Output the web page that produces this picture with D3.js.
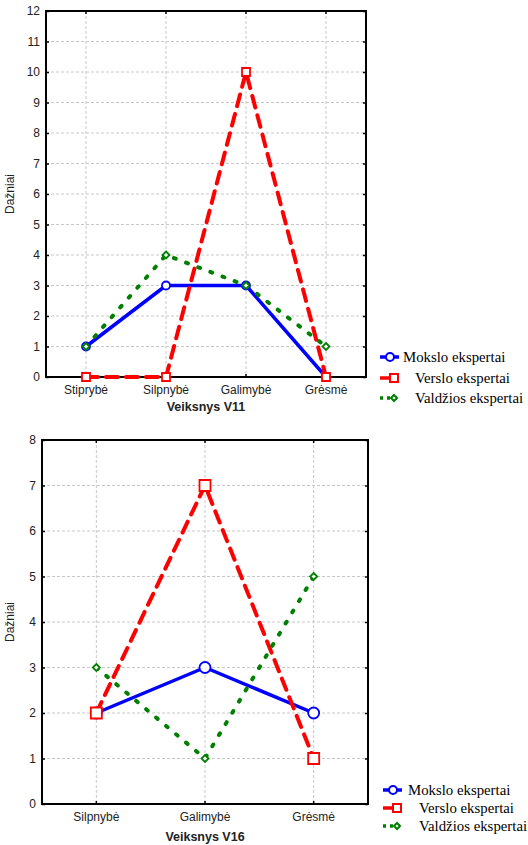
<!DOCTYPE html>
<html lang="lt">
<head>
<meta charset="UTF-8">
<title>Veiksnys V11 / V16</title>
<script src="https://d3js.org/d3.v7.min.js"></script>
<style>
  body { margin: 0; background: #fff; }
  text { font-family: "Liberation Sans", Arial, sans-serif; }
  .legend text { font-family: "Liberation Serif", "Times New Roman", serif; }
</style>
</head>
<body>
<svg id="chart" width="528" height="845"></svg>
<script>
// series names
var seriesNames = ["Mokslo ekspertai", "Verslo ekspertai", "Valdžios ekspertai"];

// chart 1 - Veiksnys V11
var categoriesV11 = ["Stiprybė", "Silpnybė", "Galimybė", "Grėsmė"];
var moksloV11 = [1, 3, 3, 0];
var versloV11 = [0, 0, 10, 0];
var valdziosV11 = [1, 4, 3, 1];
var yTicksV11 = [0, 1, 2, 3, 4, 5, 6, 7, 8, 9, 10, 11, 12];

// chart 2 - Veiksnys V16
var categoriesV16 = ["Silpnybė", "Galimybė", "Grėsmė"];
var moksloV16 = [2, 3, 2];
var versloV16 = [2, 7, 1];
var valdziosV16 = [3, 1, 5];
var yTicksV16 = [0, 1, 2, 3, 4, 5, 6, 7, 8];

var svg = d3.select("#chart");

// line styles for each series
var styles = [
  { color: "#0000ff", width: 3.5, dash: null, marker: "circle" },
  { color: "#ff0000", width: 4, dash: "12,8", marker: "square" },
  { color: "#008000", width: 4, dash: "2,11", marker: "diamond" }
];

function drawChart(opt) {
  var g = svg.append("g");
  var m = opt.box;

  var x = d3.scaleBand()
    .domain(opt.categories)
    .range([m.left, m.right]);

  var y = d3.scaleLinear()
    .domain([0, d3.max(opt.yTicks)])
    .range([m.bottom, m.top]);

  // grid
  g.append("g")
    .selectAll("line")
    .data(opt.yTicks)
    .enter().append("line")
    .attr("x1", m.left).attr("x2", m.right)
    .attr("y1", function (d) { return y(d); })
    .attr("y2", function (d) { return y(d); })
    .attr("stroke", "#c8c8c8").attr("stroke-width", 1)
    .attr("stroke-dasharray", "3,2");
  g.append("g")
    .selectAll("line")
    .data(opt.categories)
    .enter().append("line")
    .attr("x1", function (d) { return x(d) + x.bandwidth() / 2; })
    .attr("x2", function (d) { return x(d) + x.bandwidth() / 2; })
    .attr("y1", m.top).attr("y2", m.bottom)
    .attr("stroke", "#c8c8c8").attr("stroke-width", 1)
    .attr("stroke-dasharray", "3,2");

  // axes (ticks pointing inward)
  var yAxis = g.append("g")
    .attr("transform", "translate(" + m.left + ",0)")
    .call(d3.axisLeft(y).tickValues(opt.yTicks).tickFormat(d3.format("d")).tickSizeInner(-3).tickSizeOuter(0).tickPadding(6));
  yAxis.select(".domain").remove();
  yAxis.selectAll("text").attr("font-size", 12).attr("fill", "#222").style("font-family", "Liberation Sans, Arial");
  yAxis.selectAll("line").attr("stroke-width", 1.5);

  var yAxisR = g.append("g")
    .attr("transform", "translate(" + m.right + ",0)")
    .call(d3.axisRight(y).tickValues(opt.yTicks).tickFormat("").tickSizeInner(-3).tickSizeOuter(0));
  yAxisR.select(".domain").remove();
  yAxisR.selectAll("line").attr("stroke-width", 1.5);

  var xAxis = g.append("g")
    .attr("transform", "translate(0," + m.bottom + ")")
    .call(d3.axisBottom(x).tickSizeInner(-3).tickSizeOuter(0).tickPadding(8));
  xAxis.select(".domain").remove();
  xAxis.selectAll("text").attr("font-size", 12).attr("fill", "#222").style("font-family", "Liberation Sans, Arial");
  xAxis.selectAll("line").attr("stroke-width", 1.5);

  var xAxisT = g.append("g")
    .attr("transform", "translate(0," + m.top + ")")
    .call(d3.axisTop(x).tickFormat("").tickSizeInner(-3).tickSizeOuter(0));
  xAxisT.select(".domain").remove();
  xAxisT.selectAll("line").attr("stroke-width", 1.5);

  // frame
  g.append("rect")
    .attr("x", m.left).attr("y", m.top)
    .attr("width", m.right - m.left).attr("height", m.bottom - m.top)
    .attr("fill", "none").attr("stroke", "#000").attr("stroke-width", 2);

  // axis titles
  g.append("text")
    .attr("x", (m.left + m.right) / 2).attr("y", opt.titleY)
    .attr("text-anchor", "middle")
    .attr("font-size", 12.5).attr("font-weight", "bold").attr("fill", "#222")
    .text(opt.title);
  g.append("text")
    .attr("transform", "translate(" + opt.yLabelX + "," + ((m.top + m.bottom) / 2) + ") rotate(-90)")
    .attr("text-anchor", "middle")
    .attr("font-size", 12).attr("fill", "#222")
    .text("Dažniai");

  // lines
  var line = d3.line()
    .x(function (d, i) { return x(opt.categories[i]) + x.bandwidth() / 2; })
    .y(function (d) { return y(d); });

  opt.series.forEach(function (vals, k) {
    var s = styles[k];
    g.append("path")
      .datum(vals)
      .attr("d", line)
      .attr("fill", "none")
      .attr("stroke", s.color)
      .attr("stroke-width", s.width)
      .attr("stroke-linecap", s.dash ? "round" : "butt")
      .attr("stroke-linejoin", "round")
      .attr("stroke-dasharray", s.dash);
  });

  // markers
  opt.series.forEach(function (vals, k) {
    var s = styles[k];
    var size = opt.markerSize[k];
    g.append("g")
      .selectAll("path")
      .data(vals)
      .enter().append("path")
      .attr("transform", function (d, i) {
        return "translate(" + (x(opt.categories[i]) + x.bandwidth() / 2) + "," + y(d) + ")";
      })
      .attr("d", markerPath(s.marker, size))
      .attr("fill", "#fff")
      .attr("stroke", s.color)
      .attr("stroke-width", 1.8);
  });

  // legend
  var lg = g.append("g").attr("class", "legend");
  seriesNames.forEach(function (name, k) {
    var s = styles[k];
    var ly = opt.legend.y[k];
    lg.append("line")
      .attr("x1", opt.legend.x).attr("x2", opt.legend.x + 19)
      .attr("y1", ly).attr("y2", ly)
      .attr("stroke", s.color).attr("stroke-width", 3.5)
      .attr("stroke-dasharray", k == 2 ? "3,4" : null);
    lg.append("path")
      .attr("transform", "translate(" + (opt.legend.x + (k == 0 ? 10 : 14)) + "," + ly + ")")
      .attr("d", markerPath(s.marker, k == 2 ? 6 : 8))
      .attr("fill", "#fff").attr("stroke", s.color).attr("stroke-width", 2);
    lg.append("text")
      .attr("x", opt.legend.textX[k]).attr("y", ly)
      .attr("dy", "0.35em")
      .attr("font-size", 14.8).attr("fill", "#000")
      .text(name);
  });
}

function markerPath(type, size) {
  var h = size / 2;
  if (type == "circle") {
    return "M" + h + ",0A" + h + "," + h + " 0 1,1 " + (-h) + ",0A" + h + "," + h + " 0 1,1 " + h + ",0Z";
  }
  if (type == "square") {
    return "M" + (-h) + "," + (-h) + "H" + h + "V" + h + "H" + (-h) + "Z";
  }
  return "M0," + (-h) + "L" + h + ",0L0," + h + "L" + (-h) + ",0Z";
}

drawChart({
  categories: categoriesV11,
  series: [moksloV11, versloV11, valdziosV11],
  yTicks: yTicksV11,
  box: { left: 46, right: 366, top: 11, bottom: 377 },
  title: "Veiksnys V11",
  titleY: 411,
  yLabelX: 14,
  markerSize: [8, 8, 7],
  legend: { x: 380, y: [357, 378, 398], textX: [403, 415, 415] }
});

drawChart({
  categories: categoriesV16,
  series: [moksloV16, versloV16, valdziosV16],
  yTicks: yTicksV16,
  box: { left: 42, right: 368, top: 440, bottom: 804 },
  title: "Veiksnys V16",
  titleY: 841,
  yLabelX: 14,
  markerSize: [11, 11, 7],
  legend: { x: 383, y: [790, 808, 826], textX: [408, 419, 419] }
});
</script>
</body>
</html>
